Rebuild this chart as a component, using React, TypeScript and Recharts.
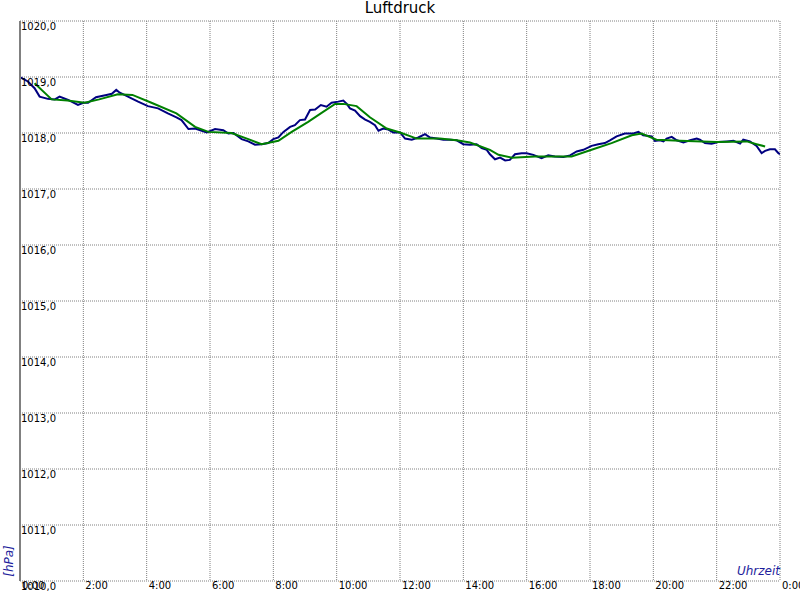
import React from "react";
import { LineChart, Line, XAxis, YAxis, CartesianGrid } from "recharts";

// hours since midnight -> pressure in hPa
const rawTimes = [
  0, 0.25, 0.46, 0.62, 0.88, 1.1, 1.25, 1.52, 1.83, 2.0, 2.15, 2.4, 2.73, 2.9, 3.04, 3.15, 3.3, 3.52,
  3.73, 4.04, 4.36, 4.67, 4.94, 5.1, 5.32, 5.53, 5.74, 5.9, 6.16, 6.42, 6.58, 6.74, 7.0, 7.21, 7.42,
  7.63, 7.84, 8.0, 8.16, 8.32, 8.53, 8.68, 8.84, 9.0, 9.16, 9.32, 9.5, 9.68, 9.84, 10.05, 10.21, 10.32,
  10.42, 10.58, 10.74, 10.9, 11.05, 11.21, 11.32, 11.47, 11.63, 11.79, 12.0, 12.16, 12.37, 12.58, 12.79,
  12.95, 13.16, 13.37, 13.58, 13.79, 14.0, 14.21, 14.42, 14.58, 14.74, 14.84, 15.0, 15.16, 15.32, 15.47,
  15.63, 15.84, 16.0, 16.21, 16.47, 16.68, 16.89, 17.16, 17.37, 17.58, 17.79, 18.05, 18.26, 18.47,
  18.63, 18.84, 19.1, 19.37, 19.53, 19.68, 19.95, 20.05, 20.21, 20.32, 20.42, 20.58, 20.74, 20.95,
  21.16, 21.37, 21.47, 21.63, 21.84, 22.05, 22.32, 22.53, 22.74, 22.84, 23.05, 23.26, 23.42, 23.53,
  23.68, 23.84, 23.95, 24.0,
];
const rawValues = [
  1019.0, 1018.92, 1018.8, 1018.65, 1018.61, 1018.6, 1018.65, 1018.59, 1018.5, 1018.54, 1018.54, 1018.64,
  1018.68, 1018.7, 1018.77, 1018.72, 1018.68, 1018.62, 1018.56, 1018.48, 1018.44, 1018.35, 1018.28,
  1018.23, 1018.07, 1018.08, 1018.04, 1018.01, 1018.07, 1018.05, 1017.99, 1018.0, 1017.89, 1017.85,
  1017.79, 1017.8, 1017.82, 1017.89, 1017.92, 1018.02, 1018.11, 1018.14, 1018.23, 1018.24, 1018.41,
  1018.42, 1018.5, 1018.47, 1018.54, 1018.56, 1018.58, 1018.52, 1018.44, 1018.4, 1018.3, 1018.24,
  1018.2, 1018.14, 1018.04, 1018.08, 1018.06, 1018.01, 1018.01, 1017.9, 1017.88, 1017.92, 1017.98,
  1017.92, 1017.9, 1017.88, 1017.88, 1017.87, 1017.8, 1017.79, 1017.8, 1017.73, 1017.7, 1017.62,
  1017.53, 1017.56, 1017.51, 1017.52, 1017.62, 1017.64, 1017.64, 1017.61, 1017.55, 1017.6, 1017.58,
  1017.57, 1017.6, 1017.67, 1017.7, 1017.77, 1017.8, 1017.82, 1017.87, 1017.94, 1017.99, 1017.99,
  1018.02, 1017.96, 1017.94, 1017.86, 1017.87, 1017.85, 1017.9, 1017.93, 1017.87, 1017.83, 1017.87,
  1017.9, 1017.88, 1017.82, 1017.81, 1017.84, 1017.85, 1017.86, 1017.81, 1017.88, 1017.85, 1017.77,
  1017.64, 1017.68, 1017.71, 1017.71, 1017.64, 1017.62,
];

// smoothed trend
const trendTimes = [
  0.46, 1.0, 1.5, 2.04, 2.5, 3.09, 3.55, 4.15, 4.94, 5.53, 5.95, 6.68, 7.21, 7.63, 8.16, 8.58, 9.1, 9.5,
  9.95, 10.21, 10.63, 11.05, 11.58, 12.0, 12.53, 13.26, 13.79, 14.21, 14.84, 15.11, 15.53, 16.26, 17.42,
  18.05, 18.68, 19.32, 19.63, 20.1, 20.84, 22.0, 22.95, 23.26, 23.53,
];
const trendValues = [
  1018.89, 1018.6, 1018.58, 1018.54, 1018.6, 1018.69, 1018.68, 1018.54, 1018.35, 1018.11, 1018.02,
  1018.0, 1017.89, 1017.8, 1017.86, 1018.02, 1018.2, 1018.35, 1018.52, 1018.52, 1018.48, 1018.28,
  1018.08, 1018.01, 1017.9, 1017.9, 1017.87, 1017.83, 1017.7, 1017.61, 1017.56, 1017.58, 1017.58,
  1017.7, 1017.82, 1017.96, 1017.99, 1017.88, 1017.86, 1017.84, 1017.85, 1017.8, 1017.76,
];

const hourTicks = [0, 2, 4, 6, 8, 10, 12, 14, 16, 18, 20, 22, 24];
const pressureTicks = [1010, 1011, 1012, 1013, 1014, 1015, 1016, 1017, 1018, 1019, 1020];

const raw = rawTimes.map((t, i) => ({ t, p: rawValues[i] }));
const trend = trendTimes.map((t, i) => ({ t, p: trendValues[i] }));

const FONT = "DejaVu Sans";
const AXIS_BLUE = "#1e1e9c";

function fmtHour(h: number) {
  return `${h % 24}:00`;
}

function YTick({ x, y, payload }: any) {
  return (
    <text x={x + 1} y={y + 9} fontFamily={FONT} fontSize={10} fill="#000" textAnchor="start">
      {payload.value.toFixed(1).replace(".", ",")}
    </text>
  );
}

function XTick({ x, y, payload }: any) {
  return (
    <text x={x + 2} y={y + 8} fontFamily={FONT} fontSize={10} fill="#000" textAnchor="start">
      {fmtHour(payload.value)}
    </text>
  );
}

export default function App() {
  return (
    <div
      style={{
        position: "absolute",
        left: 0,
        top: 0,
        width: 800,
        height: 600,
        background: "#fff",
        fontFamily: FONT,
      }}
    >
      <div
        style={{
          position: "absolute",
          left: 0,
          top: 0,
          width: 800,
          textAlign: "center",
          fontSize: 15,
          lineHeight: "16px",
          color: "#000",
        }}
      >
        Luftdruck
      </div>
      <LineChart width={800} height={600} margin={{ top: 21, right: 20, bottom: 0, left: 0 }}>
        <CartesianGrid stroke="#808080" strokeDasharray="1 1" />
        <XAxis
          type="number"
          dataKey="t"
          domain={[0, 24]}
          ticks={hourTicks}
          height={19}
          axisLine={false}
          tickLine={false}
          tickSize={0}
          tickMargin={0}
          tick={<XTick />}
          allowDataOverflow
        />
        <YAxis
          type="number"
          domain={[1010, 1020]}
          ticks={pressureTicks}
          width={20}
          axisLine={{ stroke: "#808080", strokeWidth: 2 }}
          tickLine={false}
          tickSize={0}
          tickMargin={0}
          tick={<YTick />}
          allowDataOverflow
        />
        <Line
          data={raw}
          dataKey="p"
          type="linear"
          stroke="#000080"
          strokeWidth={2}
          dot={false}
          isAnimationActive={false}
        />
        <Line
          data={trend}
          dataKey="p"
          type="linear"
          stroke="#008000"
          strokeWidth={2}
          dot={false}
          isAnimationActive={false}
        />
      </LineChart>
      <div
        style={{
          position: "absolute",
          right: 20,
          top: 564,
          fontSize: 12,
          fontStyle: "italic",
          color: AXIS_BLUE,
        }}
      >
        Uhrzeit
      </div>
      <div
        style={{
          position: "absolute",
          left: 9,
          top: 561,
          fontSize: 12,
          fontStyle: "italic",
          color: AXIS_BLUE,
          transform: "translate(-50%, -50%) rotate(-90deg)",
          whiteSpace: "nowrap",
        }}
      >
        [hPa]
      </div>
    </div>
  );
}
